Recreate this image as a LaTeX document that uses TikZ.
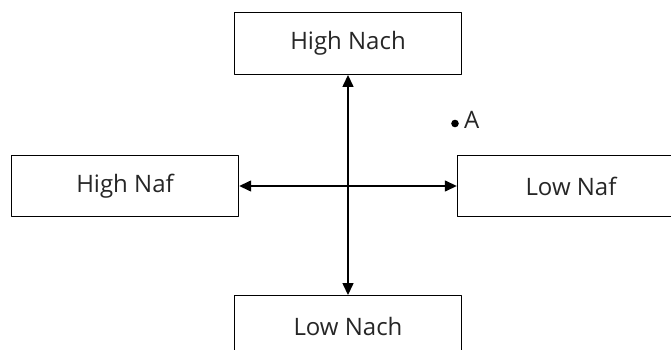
\documentclass[tikz,border=0pt]{standalone}
\usepackage{fontspec}
\setmainfont{Open Sans}
\usetikzlibrary{arrows.meta}
\begin{document}
\begin{tikzpicture}[x=1pt, y=-1pt, line join=round, >={Triangle[length=12pt,width=11pt]}, font=\fontsize{24}{28}\selectfont]
	\tikzset{box/.style={draw, line width=1.4pt, minimum width=227pt, minimum height=61.5pt, inner sep=0pt, text=black!85}}
	\def\xmin{0}\def\xmax{671}\def\ymin{0}\def\ymax{350}
	\useasboundingbox (\xmin,\ymin) rectangle (\xmax,\ymax);
	\clip (\xmin,\ymin) rectangle (\xmax,\ymax);
	% the four boxes
	\node[box] (hnach) at (348,43.5) {High Nach};
	\node[box] (hnaf) at (125,186) {High Naf};
	\node[box] (lnaf) at (571,186) {Low Naf};
	\node[box] (lnach) at (348,326.5) {Low Nach};
	% the axes between them
	\draw[<->, line width=1.4pt] (hnach) -- (lnach);
	\draw[<->, line width=1.4pt] (hnaf) -- (lnaf);
	% point A
	\coordinate (a) at (455,123.5);
	\fill (a) circle[radius=3.8pt];
	\node[anchor=west, inner sep=0pt, text=black!85] (lbla) at ([xshift=9pt,yshift=4pt]a) {A};
\end{tikzpicture}
\end{document}
